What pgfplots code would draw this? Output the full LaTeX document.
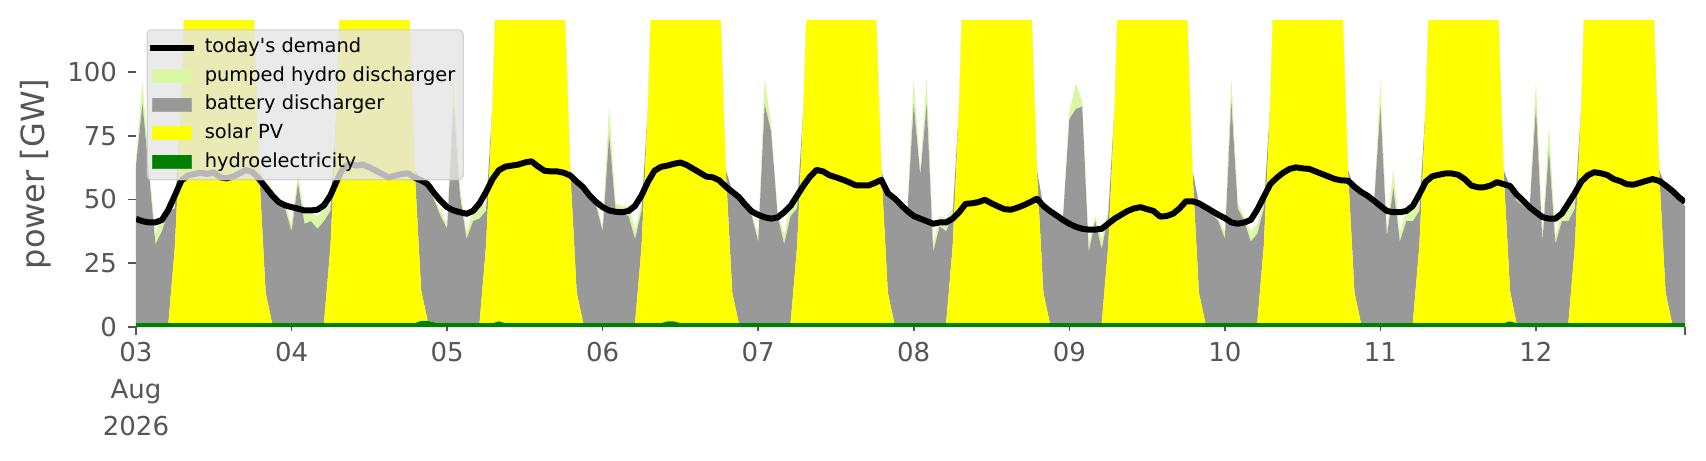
\documentclass[border=0pt]{standalone}
\usepackage{fontspec}
\setmainfont{DejaVu Sans}
\usepackage{pgfplots}
\usepackage{pgfplotstable}
\pgfplotsset{compat=1.18}
\definecolor{tickgray}{HTML}{555555}
\definecolor{hydrogreen}{HTML}{008000}
\definecolor{solaryellow}{HTML}{FFFF00}
\definecolor{battgray}{HTML}{999999}
\definecolor{pumpgreen}{HTML}{DAF7A6}
\definecolor{legbg}{HTML}{E5E5E5}
\definecolor{legedge}{HTML}{CCCCCC}

\pgfplotstableread{
h hy so ba pu de
0 1.5 0 62 3 42.4
1 1.5 0 86 9 41.5
2 1.5 0 59 3 41.0
3 1.5 0 31 4 41.0
4 1.5 0 36 6 42.0
5 1.5 0 44 4 46.0
6 1.5 30 15 3 51.6
7 1.5 85 0 0 57.4
8 1.5 170 0 0 59.4
9 1.5 250 0 0 60.0
10 1.5 250 0 0 60.5
11 1.5 250 0 0 60.0
12 1.5 250 0 0 60.7
13 1.5 250 0 0 58.7
14 1.5 250 0 0 58.3
15 1.5 250 0 0 59.0
16 1.5 250 0 0 60.3
17 1.5 200 0 0 61.6
18 1.5 135 0 0 60.7
19 1.5 60 0 0 58.0
20 1.5 12 42 1 54.8
21 1.5 0 52 1 51.6
22 1.5 0 48 1 49.0
23 1.5 0 45 2 47.7
24 1.5 0 36 3 47.0
25 1.5 0 55 3 46.4
26 1.5 0 39 4 45.7
27 1.5 0 40 3 45.7
28 1.5 0 37 5 46.0
29 1.5 0 40 5 47.7
30 1.5 30 14 3 51.6
31 1.5 85 0 0 57.4
32 1.5 170 0 0 62.6
33 1.5 250 0 0 64.0
34 1.5 250 0 0 63.3
35 1.5 250 0 0 63.7
36 1.5 250 0 0 62.6
37 1.5 250 0 0 61.3
38 1.5 250 0 0 60.0
39 1.5 250 0 0 58.7
40 1.5 250 0 0 59.4
41 1.5 200 0 0 60.0
42 1.5 135 0 0 60.3
43 1.5 60 0 0 58.5
44 2.4 12 44 0 57.5
45 2.4 0 52 1 56.0
46 1.8 0 48 1 52.5
47 1.5 0 42 2 49.5
48 1.5 0 37 2 47.0
49 1.5 0 86 10 45.7
50 1.5 0 50 3 45.0
51 1.5 0 33 3 44.4
52 1.5 0 40 4 45.5
53 1.5 0 41 5 48.5
54 1.5 30 14 3 52.9
55 1.5 85 0 0 58.0
56 2.2 170 0 0 61.5
57 1.5 250 0 0 62.9
58 1.5 250 0 0 63.3
59 1.5 250 0 0 63.7
60 1.5 250 0 0 64.5
61 1.5 250 0 0 65.0
62 1.5 250 0 0 63.0
63 1.5 250 0 0 61.3
64 1.5 250 0 0 61.0
65 1.5 200 0 0 61.0
66 1.5 135 0 0 60.5
67 1.5 60 0 0 59.4
68 1.5 12 43 0 57.0
69 1.5 0 52 1 54.8
70 1.5 0 49 1 51.5
71 1.5 0 46 1 49.0
72 1.5 0 36 2 47.0
73 1.5 0 74 11 45.7
74 1.5 0 44 3 45.2
75 1.5 0 43 3 45.0
76 1.5 0 42 4 45.5
77 1.5 0 33 4 47.5
78 1.5 30 14 3 51.6
79 1.5 85 0 0 57.0
80 1.5 170 0 0 61.3
81 1.5 250 0 0 62.8
82 2.2 250 0 0 63.3
83 2.2 250 0 0 64.0
84 1.5 250 0 0 64.5
85 1.5 250 0 0 63.5
86 1.5 250 0 0 62.0
87 1.5 250 0 0 60.5
88 1.5 250 0 0 59.0
89 1.5 200 0 0 58.7
90 1.5 135 0 0 57.5
91 1.5 60 0 0 55.0
92 1.5 12 40 0 53.0
93 1.5 0 48 1 51.0
94 1.5 0 46 1 48.0
95 1.5 0 42 1 45.3
96 1.5 0 32 3 44.0
97 1.5 0 86 10 43.0
98 1.5 0 75 3 42.5
99 1.5 0 42 2 43.0
100 1.5 0 31 4 45.0
101 1.5 0 42 5 47.5
102 1.5 30 15 3 51.5
103 1.5 85 0 0 55.5
104 1.5 170 0 0 59.0
105 1.5 250 0 0 61.6
106 1.5 250 0 0 61.0
107 1.5 250 0 0 59.5
108 1.5 250 0 0 58.7
109 1.5 250 0 0 57.8
110 1.5 250 0 0 56.8
111 1.5 250 0 0 55.6
112 1.5 250 0 0 55.5
113 1.5 200 0 0 55.5
114 1.5 135 0 0 56.5
115 1.5 60 0 0 57.7
116 1.5 12 38 0 52.5
117 1.5 0 47 1 50.5
118 1.5 0 45 1 48.0
119 1.5 0 43 1 45.5
120 1.5 0 86 10 43.5
121 1.5 0 58 2 42.5
122 1.5 0 86 10 41.5
123 1.5 0 28 3 40.5
124 1.5 0 38 4 41.0
125 1.5 0 36 5 41.0
126 1.5 30 12 3 42.5
127 1.5 85 0 0 45.0
128 1.5 170 0 0 48.3
129 1.5 250 0 0 48.5
130 1.5 250 0 0 49.0
131 1.5 250 0 0 49.9
132 1.5 250 0 0 48.5
133 1.5 250 0 0 47.3
134 1.5 250 0 0 46.2
135 1.5 250 0 0 46.0
136 1.5 250 0 0 46.8
137 1.5 200 0 0 47.8
138 1.5 135 0 0 49.0
139 1.5 60 0 0 50.3
140 1.5 12 34 0 47.5
141 1.5 0 43 1 45.5
142 1.5 0 41 1 43.8
143 1.5 0 40 1 42.0
144 1.5 0 80 3 40.5
145 1.5 0 84 10 39.3
146 1.5 0 85 2 38.5
147 1.5 0 28 3 38.2
148 1.5 0 40 2 38.2
149 1.5 0 29 4 38.5
150 1.5 30 12 3 40.5
151 1.5 85 0 0 42.5
152 1.5 170 0 0 44.0
153 1.5 250 0 0 45.5
154 1.5 250 0 0 46.5
155 1.5 250 0 0 47.0
156 1.5 250 0 0 46.2
157 1.5 250 0 0 45.5
158 1.5 250 0 0 43.3
159 1.5 250 0 0 43.5
160 1.5 250 0 0 44.4
161 1.5 200 0 0 46.5
162 1.5 135 0 0 49.3
163 1.5 60 0 0 49.3
164 1.5 12 35 0 48.5
165 1.5 0 44 1 47.0
166 1.5 0 43 1 45.5
167 1.5 0 40 1 44.0
168 1.5 0 33 3 42.7
169 1.5 0 87 9 41.0
170 1.5 0 45 2 40.5
171 1.5 0 40 2 41.0
172 1.5 0 32 4 42.0
173 1.5 0 35 4 46.0
174 1.5 30 15 3 51.0
175 1.5 85 0 0 56.0
176 1.5 170 0 0 58.5
177 1.5 250 0 0 60.5
178 1.5 250 0 0 62.0
179 1.5 250 0 0 62.6
180 1.5 250 0 0 62.2
181 1.5 250 0 0 62.0
182 1.5 250 0 0 61.0
183 1.5 250 0 0 60.0
184 1.5 250 0 0 59.0
185 1.5 200 0 0 58.0
186 1.5 135 0 0 57.5
187 1.5 60 0 0 57.4
188 1.5 12 41 0 55.0
189 1.5 0 50 1 53.0
190 1.5 0 49 1 51.5
191 1.5 0 46 1 49.5
192 1.5 0 85 10 47.5
193 1.5 0 34 3 45.5
194 1.5 0 53 7 45.0
195 1.5 0 32 4 45.0
196 1.5 0 40 4 45.5
197 1.5 0 40 5 47.5
198 1.5 30 14 3 52.0
199 1.5 85 0 0 57.0
200 1.5 170 0 0 59.1
201 1.5 250 0 0 59.7
202 1.5 250 0 0 60.2
203 1.5 250 0 0 60.2
204 1.5 250 0 0 59.7
205 1.5 250 0 0 58.0
206 1.5 250 0 0 55.5
207 1.5 250 0 0 54.8
208 1.5 250 0 0 54.8
209 1.5 200 0 0 55.5
210 1.5 135 0 0 56.8
211 1.5 60 0 0 56.0
212 2.2 12 41 0 55.3
213 1.5 0 48 1 52.0
214 1.5 0 46 1 49.6
215 1.5 0 44 1 47.0
216 1.5 0 85 10 45.0
217 1.5 0 32 3 43.1
218 1.5 0 68 10 42.5
219 1.5 0 31 3 42.5
220 1.5 0 40 4 44.5
221 1.5 0 40 5 48.5
222 1.5 30 15 3 52.5
223 1.5 85 0 0 57.0
224 1.5 170 0 0 59.5
225 1.5 250 0 0 60.7
226 1.5 250 0 0 60.3
227 1.5 250 0 0 59.6
228 1.5 250 0 0 58.0
229 1.5 250 0 0 57.2
230 1.5 250 0 0 56.0
231 1.5 250 0 0 55.8
232 1.5 250 0 0 56.5
233 1.5 200 0 0 57.3
234 1.5 135 0 0 58.0
235 1.5 60 0 0 57.3
236 1.5 12 42 0 55.5
237 1.5 0 51 0 53.5
238 1.5 0 48 0 51.0
239 1.5 0 46 0 49.0
}\data

\pgfplotsset{
  demandleg/.style={legend image code/.code={\draw[black, line width=3pt, draw opacity=1, sharp corners] (-1.2pt,0pt) -- (20.6pt,0pt);}},
  pumpleg/.style={legend image code/.code={\fill[pumpgreen, fill opacity=1, sharp corners] (0pt,-3.25pt) rectangle (19.4pt,3.25pt);}},
  battleg/.style={legend image code/.code={\fill[battgray, fill opacity=1, sharp corners] (0pt,-3.25pt) rectangle (19.4pt,3.25pt);}},
  solarleg/.style={legend image code/.code={\fill[solaryellow, fill opacity=1, sharp corners] (0pt,-3.25pt) rectangle (19.4pt,3.25pt);}},
  hydroleg/.style={legend image code/.code={\fill[hydrogreen, fill opacity=1, sharp corners] (0pt,-3.25pt) rectangle (19.4pt,3.25pt);}},
  common/.style={
  width=774.5pt, height=153pt, scale only axis,
  at={(0pt,0pt)}, anchor=south west,
  xmin=0, xmax=239, ymin=0, ymax=120}
}

\begin{document}
\begin{tikzpicture}
\begin{axis}[common,
  stack plots=y,
  axis line style={draw=none},
  tick align=outside,
  tick pos=left,
  tick style={color=tickgray, line width=0.8pt},
  major tick length=2pt,
  xtick={0,24,...,216},
  xticklabels={{03\\Aug\\2026},04,05,06,07,08,09,10,11,12},
  xticklabel style={align=center, font=\fontsize{13}{18.5}\selectfont, text=tickgray, yshift=-2pt},
  ytick=\empty,
  extra y ticks={0,25,50,75,100},
  extra y tick labels={0,25,50,75,100},
  extra x ticks={0,239},
  extra x tick labels={{},{}},
  extra tick style={major tick length=4pt, tick style={color=tickgray, line width=0.8pt}},
  yticklabel style={font=\fontsize{13}{17}\selectfont, text=tickgray, xshift=-2pt},
  ylabel={power [GW]},
  every axis y label/.style={at={(axis description cs:-0.0646,0.5)}, rotate=90, anchor=center, font=\fontsize{16}{19}\selectfont, text=tickgray},
]
\addplot[draw=none, fill=hydrogreen] table[x=h, y=hy] {\data} \closedcycle;
\addplot[draw=none, fill=solaryellow] table[x=h, y=so] {\data} \closedcycle;
\addplot[draw=none, fill=battgray] table[x=h, y=ba] {\data} \closedcycle;
\addplot[draw=none, fill=pumpgreen] table[x=h, y=pu] {\data} \closedcycle;
\end{axis}
\begin{axis}[common, hide axis,
  legend cell align=left,
  legend style={at={(axis description cs:0.00684,0.9729)}, anchor=north west,
    fill=legbg, fill opacity=0.8, draw=legedge, draw opacity=0.8, text opacity=1,
    rounded corners=2pt, line width=0.6pt,
    font=\fontsize{9.7}{11}\selectfont,
    inner xsep=0pt, inner ysep=2.5pt, row sep=1.6pt,
    nodes={inner xsep=4pt, inner ysep=1.5pt, text height=7.4pt, text depth=2.3pt}},
]
\addplot[black, line width=3pt, line join=round, demandleg]
  table[x=h, y=de] {\data};
\addlegendentry{today\textquotesingle s demand}
\addlegendimage{pumpleg}
\addlegendentry{pumped hydro discharger}
\addlegendimage{battleg}
\addlegendentry{battery discharger}
\addlegendimage{solarleg}
\addlegendentry{solar PV}
\addlegendimage{hydroleg}
\addlegendentry{hydroelectricity}
\end{axis}
\pgfresetboundingbox
\path[use as bounding box] (-68pt,-66.5pt) rectangle (785pt,163.5pt);
\end{tikzpicture}
\end{document}
